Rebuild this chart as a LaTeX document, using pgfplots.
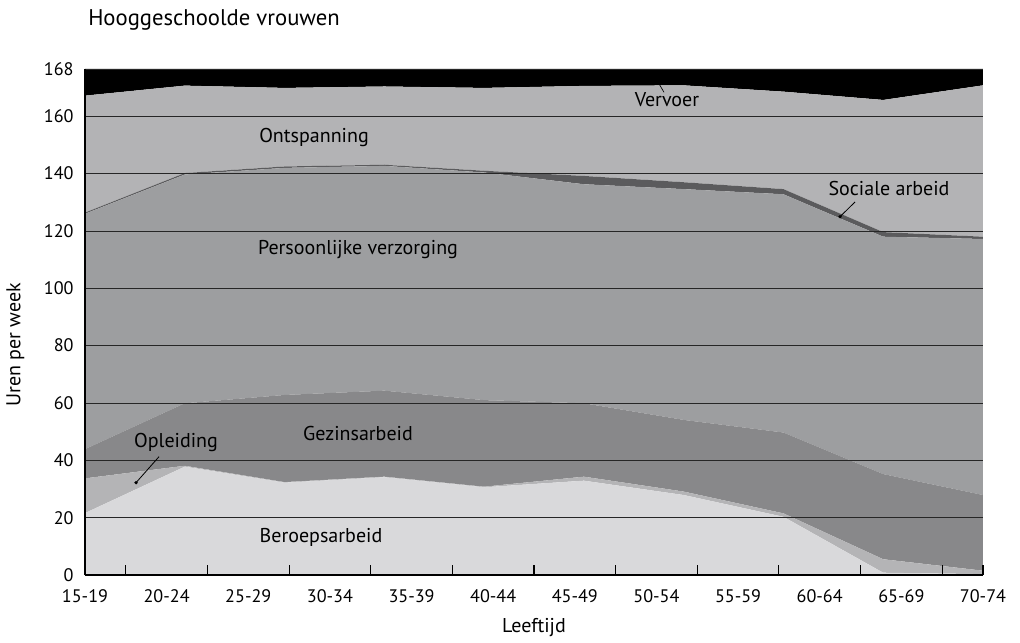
\documentclass[border=0pt]{standalone}
\usepackage{fontspec}
\setmainfont{PT Sans}
\usepackage{pgfplots}
\pgfplotsset{compat=1.18}

\definecolor{beroeps}{HTML}{D9D9DB}
\definecolor{opleid}{HTML}{B4B4B6}
\definecolor{gezin}{HTML}{88888A}
\definecolor{verzorg}{HTML}{9D9EA0}
\definecolor{sociaal}{HTML}{5B5B5D}
\definecolor{ontsp}{HTML}{B3B3B5}

\begin{document}
\begin{tikzpicture}
% pixel frame of the reference (1020 x 642), origin = axis corner at (85,575)
\begin{scope}[x=0.75pt, y=-0.75pt, shift={(-63.75pt,431.25pt)}]
  \path[use as bounding box] (0,0) rectangle (1020,642);
\end{scope}

\begin{axis}[
    scale only axis,
    width=673.5pt, height=379.5pt,
    xmin=0, xmax=9, ymin=0, ymax=176.5,
    stack plots=y,
    axis on top,
    axis x line*=bottom, axis y line*=left,
    axis line style={black, line width=0.8pt},
    xtick={0,0.81818,1.63636,2.45455,3.27273,4.09091,4.90909,5.72727,6.54545,7.36364,8.18182,9},
    xticklabels={15-19,20-24,25-29,30-34,35-39,40-44,45-49,50-54,55-59,60-64,65-69,70-74},
    major x tick style={draw=none},
    minor xtick={0.40909,1.22727,2.04545,2.86364,3.68182,4.5,5.31818,6.13636,6.95455,7.77273,8.59091,9},
    minor tick length=7.5pt,
    minor x tick style={black, line width=0.8pt},
    tick align=inside,
    ytick={0,20,40,60,80,100,120,140,160,176.5},
    yticklabels={0,20,40,60,80,100,120,140,160,168},
    major y tick style={draw=none},
    ymajorgrids,
    grid style={black!85, line width=0.7pt},
    tick label style={font=\fontsize{13.6pt}{15pt}\selectfont},
    xticklabel style={yshift=-7.5pt},
    yticklabel style={xshift=-5pt},
]
% Beroepsarbeid
\addplot[fill=beroeps, draw=none] coordinates {
  (0,21.6) (1,37.8) (2,32.2) (3,34.1) (4,30.6) (5,32.9) (6,27.9) (7,20.3) (8,0.8) (9,0.3)
} \closedcycle;
% Opleiding
\addplot[fill=opleid, draw=none] coordinates {
  (0,12.1) (1,0.3) (2,0.2) (3,0.2) (4,0.2) (5,1.4) (6,1.2) (7,1.2) (8,4.7) (9,1.2)
} \closedcycle;
% Gezinsarbeid
\addplot[fill=gezin, draw=none] coordinates {
  (0,10.2) (1,21.8) (2,30.4) (3,30.0) (4,30.2) (5,25.6) (6,25.0) (7,28.2) (8,29.7) (9,26.4)
} \closedcycle;
% Persoonlijke verzorging
\addplot[fill=verzorg, draw=none] coordinates {
  (0,82.1) (1,79.8) (2,79.2) (3,78.4) (4,79.4) (5,76.4) (6,80.5) (7,83.1) (8,82.8) (9,89.3)
} \closedcycle;
% Sociale arbeid
\addplot[fill=sociaal, draw=none] coordinates {
  (0,0.4) (1,0.5) (2,0.5) (3,0.4) (4,0.6) (5,2.9) (6,2.4) (7,1.8) (8,1.6) (9,0.8)
} \closedcycle;
% Ontspanning
\addplot[fill=ontsp, draw=none] coordinates {
  (0,40.8) (1,30.5) (2,27.4) (3,27.3) (4,28.9) (5,31.4) (6,33.8) (7,34.0) (8,46.1) (9,52.8)
} \closedcycle;
% Vervoer
\addplot[fill=black, draw=none] coordinates {
  (0,9.3) (1,5.8) (2,6.6) (3,6.1) (4,6.6) (5,5.9) (6,5.7) (7,7.9) (8,10.8) (9,5.7)
} \closedcycle;
\end{axis}

\begin{scope}[x=0.75pt, y=-0.75pt, shift={(-63.75pt,431.25pt)},
  font=\fontsize{15pt}{17pt}\selectfont]
  \node[anchor=west, inner sep=0pt, font=\fontsize{17pt}{19pt}\selectfont] at (88,20) {Hooggeschoolde vrouwen};
  \node[rotate=90] at (15.5,345) {Uren per week};
  \node at (534,628) {Leeftijd};
  \node at (667,100) {Vervoer};
  \draw[line width=0.5pt] (659.3,84.3) -- (664,92.3);
  \node at (314,138) {Ontspanning};
  \node at (889,189) {Sociale arbeid};
  \draw[line width=0.6pt] (840,216.7) -- (855,202);
  \fill (840,216.7) circle (1.8);
  \node at (358,250) {Persoonlijke verzorging};
  \node at (358,434) {Gezinsarbeid};
  \node at (176,443) {Opleiding};
  \draw[line width=0.6pt] (136,482.7) -- (159,456.7);
  \fill (136,482.7) circle (1.8);
  \node at (321,537) {Beroepsarbeid};
\end{scope}
\end{tikzpicture}
\end{document}
